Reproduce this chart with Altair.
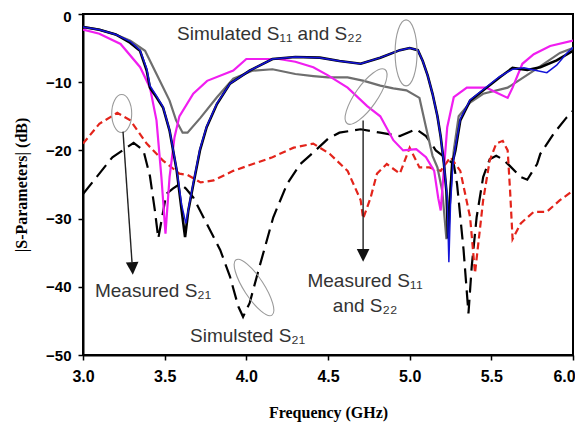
import altair as alt
import pandas as pd

# ---- data (frequency in GHz, |S| in dB) ----
sim_s11_f = [3.0, 3.1, 3.2, 3.288, 3.349, 3.39, 3.41, 3.45, 3.49, 3.53, 3.574, 3.604, 3.625,
             3.645, 3.676, 3.716, 3.757, 3.82, 3.9, 4.02, 4.16, 4.3, 4.45, 4.57, 4.7, 4.82,
             4.94, 5.0, 5.05, 5.08, 5.11, 5.14, 5.17, 5.19, 5.21, 5.225, 5.235, 5.245, 5.26,
             5.28, 5.31, 5.37, 5.47, 5.55, 5.63, 5.72, 5.8, 5.9, 6.0]
sim_s11_db = [-1.9, -2.3, -3.0, -4.2, -5.4, -8.3, -10.8, -12.2, -13.7, -17.1, -23.0, -28.8, -32.7,
              -28.8, -24.9, -20.0, -16.6, -13.2, -10.2, -8.3, -6.6, -6.3, -6.4, -6.9, -7.3, -6.4,
              -5.3, -5.0, -5.3, -6.9, -9.0, -11.7, -15.0, -18.0, -22.0, -26.0, -32.9, -28.0, -22.0,
              -20.0, -15.6, -12.7, -10.8, -9.3, -7.9, -8.2, -7.8, -6.8, -5.4]

sim_s22_f = [3.0, 3.1, 3.2, 3.288, 3.349, 3.39, 3.41, 3.45, 3.49, 3.53, 3.574, 3.604, 3.63,
             3.65, 3.676, 3.716, 3.757, 3.82, 3.9, 4.02, 4.16, 4.3, 4.45, 4.57, 4.7, 4.82,
             4.94, 5.0, 5.05, 5.08, 5.11, 5.14, 5.17, 5.19, 5.21, 5.23, 5.24, 5.25, 5.265,
             5.28, 5.31, 5.37, 5.47, 5.55, 5.63, 5.7, 5.76, 5.84, 5.9, 5.96, 6.0]
sim_s22_db = [-1.9, -2.3, -3.0, -4.0, -5.3, -8.0, -10.5, -12.0, -13.6, -17.0, -22.8, -28.0, -30.7,
              -28.0, -24.7, -19.8, -16.5, -13.1, -10.2, -8.3, -6.6, -6.3, -6.4, -6.9, -7.3, -6.4,
              -5.3, -5.0, -5.3, -6.9, -9.0, -11.7, -15.0, -18.0, -22.0, -27.0, -36.4, -28.0, -22.0,
              -19.5, -15.4, -12.6, -10.7, -9.2, -8.1, -7.9, -8.2, -8.6, -7.5, -5.8, -4.9]

meas_s11_f = [3.0, 3.1, 3.2, 3.29, 3.38, 3.45, 3.53, 3.57, 3.61, 3.64, 3.72, 3.82, 3.92, 4.04,
              4.16, 4.3, 4.41, 4.5, 4.62, 4.72, 4.82, 4.9, 4.98, 5.06, 5.1, 5.14, 5.17, 5.2,
              5.225, 5.24, 5.27, 5.3, 5.37, 5.45, 5.6, 5.76, 5.92, 6.0]
meas_s11_db = [-1.9, -2.3, -3.0, -3.9, -5.4, -8.8, -12.7, -15.6, -17.4, -17.4, -15.2, -12.2, -9.5,
               -8.3, -8.1, -8.8, -9.1, -9.3, -9.3, -9.8, -10.5, -10.9, -11.2, -12.3, -16.6, -20.8,
               -22.5, -26.0, -33.0, -28.0, -20.0, -15.0, -13.0, -11.7, -10.8, -8.3, -5.7, -5.0]

meas_s22_f = [3.0, 3.1, 3.23, 3.35, 3.41, 3.45, 3.48, 3.505, 3.53, 3.56, 3.59, 3.675, 3.76,
              3.92, 4.0, 4.12, 4.2, 4.3, 4.41, 4.5, 4.62, 4.74, 4.82, 4.9, 4.96, 5.04, 5.1,
              5.15, 5.175, 5.19, 5.23, 5.27, 5.35, 5.47, 5.53, 5.6, 5.63, 5.69, 5.76, 5.86, 6.0]
meas_s22_db = [-2.3, -2.9, -4.4, -7.8, -10.8, -15.6, -23.9, -32.2, -23.9, -18.1, -15.0, -11.7,
               -9.8, -8.3, -6.6, -6.6, -6.6, -7.0, -7.8, -9.0, -10.8, -13.5, -15.0, -18.5, -20.0,
               -19.8, -21.0, -23.0, -27.0, -28.8, -16.6, -12.2, -10.8, -10.8, -11.5, -12.3, -10.8,
               -7.3, -5.9, -4.7, -3.9]

meas_s21_f = [3.0, 3.1, 3.21, 3.29, 3.39, 3.49, 3.59, 3.64, 3.72, 3.8, 3.92, 4.04, 4.16, 4.29,
              4.41, 4.51, 4.62, 4.7, 4.715, 4.76, 4.8, 4.86, 4.94, 5.0, 5.06, 5.12, 5.19, 5.25,
              5.31, 5.37, 5.4, 5.45, 5.49, 5.53, 5.57, 5.6, 5.615, 5.63, 5.68, 5.76, 5.84,
              5.92, 6.0]
meas_s21_db = [-19.0, -16.1, -14.5, -15.6, -19.0, -21.5, -23.4, -23.6, -24.7, -24.4, -23.0, -22.0,
               -21.0, -19.6, -19.0, -20.5, -23.0, -27.3, -30.0, -27.0, -23.4, -22.0, -23.4, -19.6,
               -22.5, -22.5, -23.0, -21.0, -23.0, -29.8, -38.0, -27.3, -21.5, -19.0, -18.6, -20.0,
               -26.0, -33.0, -30.7, -29.0, -29.0, -27.3, -25.9]

sim_s21_f = [3.0, 3.1, 3.18, 3.31, 3.37, 3.41, 3.44, 3.461, 3.51, 3.55, 3.594, 3.63, 3.675,
             3.757, 3.84, 3.9, 3.951, 3.98, 4.02, 4.08, 4.165, 4.25, 4.33, 4.41, 4.5, 4.57,
             4.7, 4.82, 4.94, 5.04, 5.1, 5.16, 5.23, 5.27, 5.29, 5.33, 5.36, 5.38, 5.41, 5.45,
             5.49, 5.53, 5.57, 5.61, 5.68, 5.72, 5.78, 5.8, 5.88, 5.96, 6.0]
sim_s21_db = [-26.4, -23.4, -21.0, -18.9, -20.0, -23.8, -28.8, -32.9, -26.4, -25.6, -24.9, -25.6,
              -26.9, -30.7, -34.6, -38.5, -42.9, -44.4, -42.4, -37.1, -29.8, -24.9, -22.0, -20.3,
              -18.3, -17.4, -16.9, -17.4, -17.9, -16.9, -17.9, -20.0, -21.3, -22.0, -24.9, -34.6,
              -43.9, -37.0, -29.8, -23.9, -21.3, -20.8, -21.3, -22.2, -23.9, -24.3, -22.0, -20.5,
              -17.6, -15.2, -14.2]

x_ticks = [3.0, 3.5, 4.0, 4.5, 5.0, 5.5, 6.0]
y_ticks = [-50, -40, -30, -20, -10, 0]

# annotation texts
ann_text = ["Simulated S\u2081\u2081 and S\u2082\u2082", "Measured S\u2082\u2081",
            "Simulsted S\u2082\u2081"]
ann_f = [3.576, 3.073, 3.655]
ann_db = [-3.8, -41.5, -48.1]
ann2_text = ["Measured S\u2081\u2081", "and S\u2082\u2082"]
ann2_f = [4.727, 4.727]
ann2_db = [-40.1, -43.7]

# ellipses (centre f, centre dB, half-width px, half-height px, rotation)
ell_f = [3.237, 4.047, 4.733, 4.978]
ell_db = [-14.6, -40.1, -12.1, -5.7]
ell_rx = [10, 10, 11, 11]
ell_ry = [19, 33, 33, 33]
ell_rot = [0, 327, 35, 0]

# arrows
arr_f1 = [3.245, 4.715]
arr_db1 = [-17.25, -15.6]
arr_f2 = [3.300, 4.715]
arr_db2 = [-36.4, -34.6]
head_f = [3.303, 4.715]
head_db = [-37.3, -35.4]
head_rot = [357, 0]

X_DOM = [3.0, 6.0]
Y_DOM = [-50, 0]

xs = alt.Scale(domain=X_DOM, nice=False, zero=False)
ys = alt.Scale(domain=Y_DOM, nice=False, zero=False)

x_axis = alt.Axis(values=x_ticks, format=".1f", title="Frequency (GHz)", grid=False,
                  labelFont="Liberation Sans", labelFontWeight="bold", labelFontSize=16,
                  labelColor="#000", labelPadding=8, labelFlush=False, labelOverlap=False,
                  labelOffset={"expr": "datum.value >= 6 ? -9 : 0"},
                  tickSize=5, tickColor="#000",
                  tickWidth=1.5, domainColor="#000", domainWidth=2,
                  titleFont="Liberation Serif", titleFontWeight="bold", titleFontSize=16,
                  titleColor="#000", titlePadding=20)
y_axis = alt.Axis(values=y_ticks, format="d", title="|S-Parameters| (dB)", grid=False,
                  labelFont="Liberation Sans", labelFontWeight="bold", labelFontSize=15,
                  labelColor="#000", labelPadding=7, labelFlush=False, labelOverlap=False,
                  labelOffset={"expr": "datum.value >= 0 ? 2 : 0"},
                  tickSize=5, tickColor="#000",
                  tickWidth=1.5, domainColor="#000", domainWidth=2,
                  titleFont="Liberation Serif", titleFontWeight="bold", titleFontSize=16,
                  titleColor="#000", titlePadding=16)

X = lambda field: alt.X(field, scale=xs, axis=x_axis)
Y = lambda field: alt.Y(field, scale=ys, axis=y_axis)


def series(f, db):
    return pd.DataFrame({"f": f, "db": db})


def line(df, color, width, dash=None):
    kw = dict(color=color, strokeWidth=width, clip=True)
    if dash:
        kw["strokeDash"] = dash
    return alt.Chart(df).mark_line(**kw).encode(x=X("f:Q"), y=Y("db:Q"))


layers = [
    line(series(sim_s21_f, sim_s21_db), "#000000", 2.2, [15, 7]),
    line(series(meas_s21_f, meas_s21_db), "#e3241b", 2.2, [7, 4]),
    line(series(meas_s11_f, meas_s11_db), "#6e6e6e", 2.2),
    line(series(meas_s22_f, meas_s22_db), "#f01ef0", 2.2),
    line(series(sim_s11_f, sim_s11_db), "#000000", 2.6),
    line(series(sim_s22_f, sim_s22_db), "#1414d8", 1.5),
]

# ellipses
ell_df = pd.DataFrame({"f": ell_f, "db": ell_db, "rx": ell_rx, "ry": ell_ry, "rot": ell_rot})
for i, r in ell_df.iterrows():
    k = r["rx"] / r["ry"]
    path = f"M0,-1 A{k:.3f},1 0 1,1 0,1 A{k:.3f},1 0 1,1 0,-1 Z"
    layers.append(
        alt.Chart(ell_df.iloc[[i]]).mark_point(
            shape=path, filled=False, stroke="#9a9a9a", strokeWidth=1.1,
            size=float((2 * r["ry"]) ** 2), angle=float(r["rot"]), opacity=1)
        .encode(x=X("f:Q"), y=Y("db:Q"))
    )

# arrows
arr_df = pd.DataFrame({"f1": arr_f1, "db1": arr_db1, "f2": arr_f2, "db2": arr_db2})
layers.append(
    alt.Chart(arr_df).mark_rule(color="#222", strokeWidth=1.4).encode(
        x=X("f1:Q"), y=Y("db1:Q"), x2="f2:Q", y2="db2:Q")
)
head_df = pd.DataFrame({"f": head_f, "db": head_db, "rot": head_rot})
layers.append(
    alt.Chart(head_df).mark_point(shape="M-1,-1 L1,-1 L0,1 Z", filled=True, color="#111",
                                  size=160, opacity=1).encode(
        x=X("f:Q"), y=Y("db:Q"), angle=alt.Angle("rot:Q", scale=None))
)

# texts
t1 = pd.DataFrame({"f": ann_f, "db": ann_db, "t": ann_text})
layers.append(
    alt.Chart(t1).mark_text(align="left", baseline="alphabetic", font="Liberation Sans",
                            fontSize=19, color="#333").encode(
        x=X("f:Q"), y=Y("db:Q"), text="t:N")
)
t2 = pd.DataFrame({"f": ann2_f, "db": ann2_db, "t": ann2_text})
layers.append(
    alt.Chart(t2).mark_text(align="center", baseline="alphabetic", font="Liberation Sans",
                            fontSize=19, color="#333").encode(
        x=X("f:Q"), y=Y("db:Q"), text="t:N")
)

chart = alt.layer(*layers).properties(
    width=490, height=341,
    autosize=alt.AutoSizeParams(type="none"),
    padding={"left": 75, "top": 6, "right": 2, "bottom": 69},
).configure(background="white").configure_view(stroke="#000", strokeWidth=2)

chart.save("out.html", embed_options={"renderer": "svg", "actions": False})
